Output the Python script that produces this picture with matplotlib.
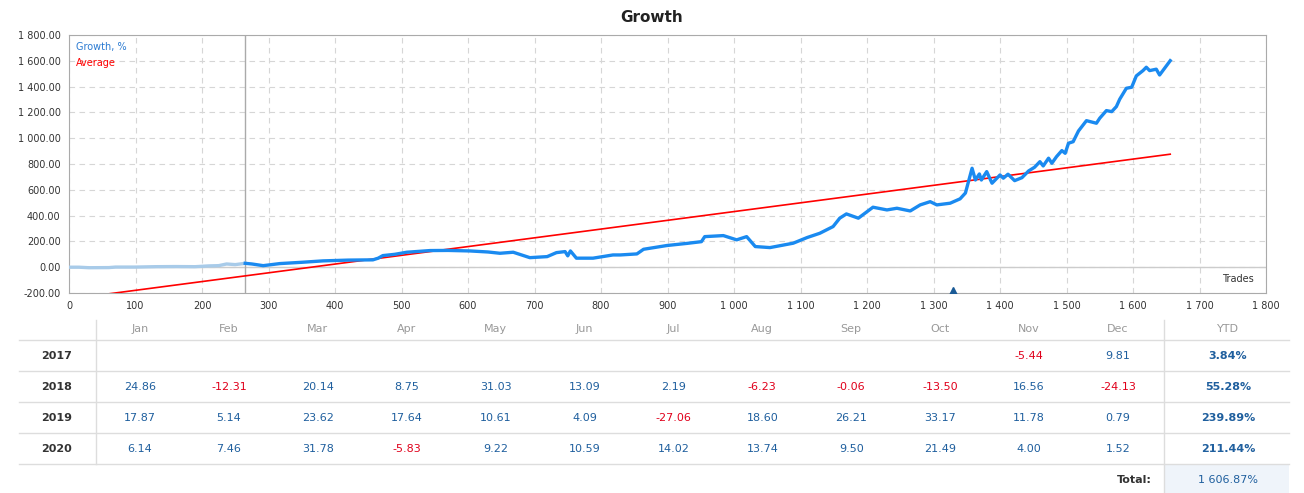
import matplotlib
matplotlib.use("Agg")
import matplotlib.pyplot as plt
from matplotlib.ticker import FuncFormatter, MultipleLocator
from matplotlib.patches import Rectangle

# growth curve (trade number, growth %)
trades_light = [0, 15, 30, 60, 70, 100, 130, 160, 190, 210, 225, 237, 250, 265]
growth_light = [0, 0, -4, -3, 1, 1, 4, 5, 4, 10, 12, 25, 20, 30]

trades_dark = [265, 275, 292, 317, 350, 382, 420, 457, 465, 472, 490, 508, 543, 570, 603,
               630, 648, 668, 693, 719, 733, 746, 750, 754, 763, 788, 818, 829, 854, 864,
               899, 930, 951, 956, 984, 1004, 1019, 1032, 1054, 1089, 1110, 1129, 1149,
               1159, 1169, 1187, 1209, 1230, 1245, 1265, 1280, 1295, 1305, 1325, 1340,
               1348, 1358, 1363, 1369, 1372, 1380, 1388, 1400, 1405, 1412, 1422, 1433,
               1443, 1452, 1460, 1465, 1473, 1478, 1485, 1493, 1498, 1503, 1510, 1518,
               1530, 1545, 1550, 1560, 1568, 1575, 1580, 1590, 1598, 1605, 1615, 1620,
               1625, 1635, 1640, 1656]
growth_dark = [30, 25, 12, 28, 38, 49, 55, 57, 70, 90, 100, 116, 129, 130, 126,
               118, 108, 116, 74, 82, 113, 121, 88, 126, 70, 70, 95, 95, 103, 139,
               168, 185, 198, 237, 245, 212, 237, 160, 152, 186, 230, 263, 315,
               380, 413, 380, 465, 444, 457, 436, 483, 508, 483, 496, 530,
               575, 767, 676, 723, 676, 741, 651, 715, 690, 721, 671, 694,
               746, 775, 818, 785, 845, 806, 857, 904, 883, 961, 973, 1056,
               1136, 1116, 1155, 1214, 1206, 1245, 1302, 1387, 1395, 1483, 1524, 1550,
               1524, 1535, 1490, 1601]

avg_trades = [0, 1656]
avg_values = [-247, 876]

split_trade = 265
marker_trade = 1330

months = ["Jan", "Feb", "Mar", "Apr", "May", "Jun", "Jul", "Aug", "Sep", "Oct", "Nov", "Dec"]
years = ["2017", "2018", "2019", "2020"]
monthly = [
    [None, None, None, None, None, None, None, None, None, None, -5.44, 9.81],
    [24.86, -12.31, 20.14, 8.75, 31.03, 13.09, 2.19, -6.23, -0.06, -13.50, 16.56, -24.13],
    [17.87, 5.14, 23.62, 17.64, 10.61, 4.09, -27.06, 18.60, 26.21, 33.17, 11.78, 0.79],
    [6.14, 7.46, 31.78, -5.83, 9.22, 10.59, 14.02, 13.74, 9.50, 21.49, 4.00, 1.52],
]
ytd = [3.84, 55.28, 239.89, 211.44]
total = 1606.87

W, H = 1304, 493
fig = plt.figure(figsize=(W / 100, H / 100), dpi=100)
plt.rcParams["font.family"] = "DejaVu Sans"

blue = "#1a8af0"
light = "#a8cbe9"
red = "#ff0000"
pos_col = "#1f5f9e"
neg_col = "#e0001b"


def fx(px):
    return px / W


def fy(py):
    return 1 - py / H


ax = fig.add_axes([fx(69), fy(293), fx(1266) - fx(69), fy(35) - fy(293)])
ax.set_xlim(0, 1800)
ax.set_ylim(-200, 1800)
ax.xaxis.set_major_locator(MultipleLocator(100))
ax.yaxis.set_major_locator(MultipleLocator(200))
ax.xaxis.set_major_formatter(FuncFormatter(lambda v, p: f"{int(v):,}".replace(",", " ")))
ax.yaxis.set_major_formatter(FuncFormatter(lambda v, p: f"{v:,.2f}".replace(",", " ")))
ax.tick_params(length=0, labelsize=7, colors="#333333", pad=6)
ax.grid(True, color="#d6d6d6", linestyle=(0, (5, 4)), linewidth=0.8)
for s in ax.spines.values():
    s.set_color("#aaaaaa")
ax.axhline(0, color="#cccccc", linewidth=1)
ax.axvline(split_trade, color="#aaaaaa", linewidth=1)

ax.plot(avg_trades, avg_values, color=red, linewidth=1.2, zorder=3)
ax.plot(trades_light, growth_light, color=light, linewidth=2.4, zorder=4, solid_joinstyle="round")
ax.plot(trades_dark, growth_dark, color=blue, linewidth=2.4, zorder=4, solid_joinstyle="round")
ax.plot([marker_trade], [-200], marker="^", color="#1a5a96", markersize=9, zorder=5)

ax.text(0.006, 0.955, "Growth, %", transform=ax.transAxes, color="#2a7ad2", fontsize=7, va="center")
ax.text(0.006, 0.893, "Average", transform=ax.transAxes, color=red, fontsize=7, va="center")
ax.text(0.99, 0.035, "Trades", transform=ax.transAxes, color="#333333", fontsize=7, ha="right", va="bottom")

fig.text(0.5, fy(18), "Growth", ha="center", va="center", fontsize=11, fontweight="bold", color="#222222")

# table of monthly returns
tab_left, tab_right = 19, 1289
year_x = 57
month_x0, month_dx = 140, 88.9
ytd_x = 1228
header_y = 329
row_y = [356, 387, 418, 449]
total_y = 480
hlines = [340, 371, 402, 433, 464]

for y in hlines:
    fig.add_artist(plt.Line2D([fx(tab_left), fx(tab_right)], [fy(y), fy(y)], color="#dddddd", linewidth=1))
fig.add_artist(plt.Line2D([fx(96), fx(96)], [fy(320), fy(464)], color="#dddddd", linewidth=1))
fig.add_artist(plt.Line2D([fx(1164), fx(1164)], [fy(320), fy(493)], color="#dddddd", linewidth=1))
fig.add_artist(Rectangle((fx(1164), fy(493)), fx(1289) - fx(1164), fy(464) - fy(493),
                         transform=fig.transFigure, facecolor="#eff4fa", edgecolor="none", zorder=0))

for i, m in enumerate(months):
    fig.text(fx(month_x0 + i * month_dx), fy(header_y), m, ha="center", va="center", fontsize=8, color="#999999")
fig.text(fx(ytd_x), fy(header_y), "YTD", ha="center", va="center", fontsize=8, color="#999999")

for r, yr in enumerate(years):
    fig.text(fx(year_x), fy(row_y[r]), yr, ha="center", va="center", fontsize=8, fontweight="bold", color="#333333")
    for i, v in enumerate(monthly[r]):
        if v is None:
            continue
        fig.text(fx(month_x0 + i * month_dx), fy(row_y[r]), f"{v:.2f}", ha="center", va="center",
                 fontsize=8, color=neg_col if v < 0 else pos_col)
    fig.text(fx(ytd_x), fy(row_y[r]), f"{ytd[r]:.2f}%", ha="center", va="center", fontsize=8,
             fontweight="bold", color=pos_col)

fig.text(fx(1152), fy(total_y), "Total:", ha="right", va="center", fontsize=8, fontweight="bold", color="#333333")
fig.text(fx(ytd_x), fy(total_y), f"{total:,.2f}%".replace(",", " "), ha="center", va="center",
         fontsize=8, color=pos_col)

fig.savefig("out.png", dpi=100)
